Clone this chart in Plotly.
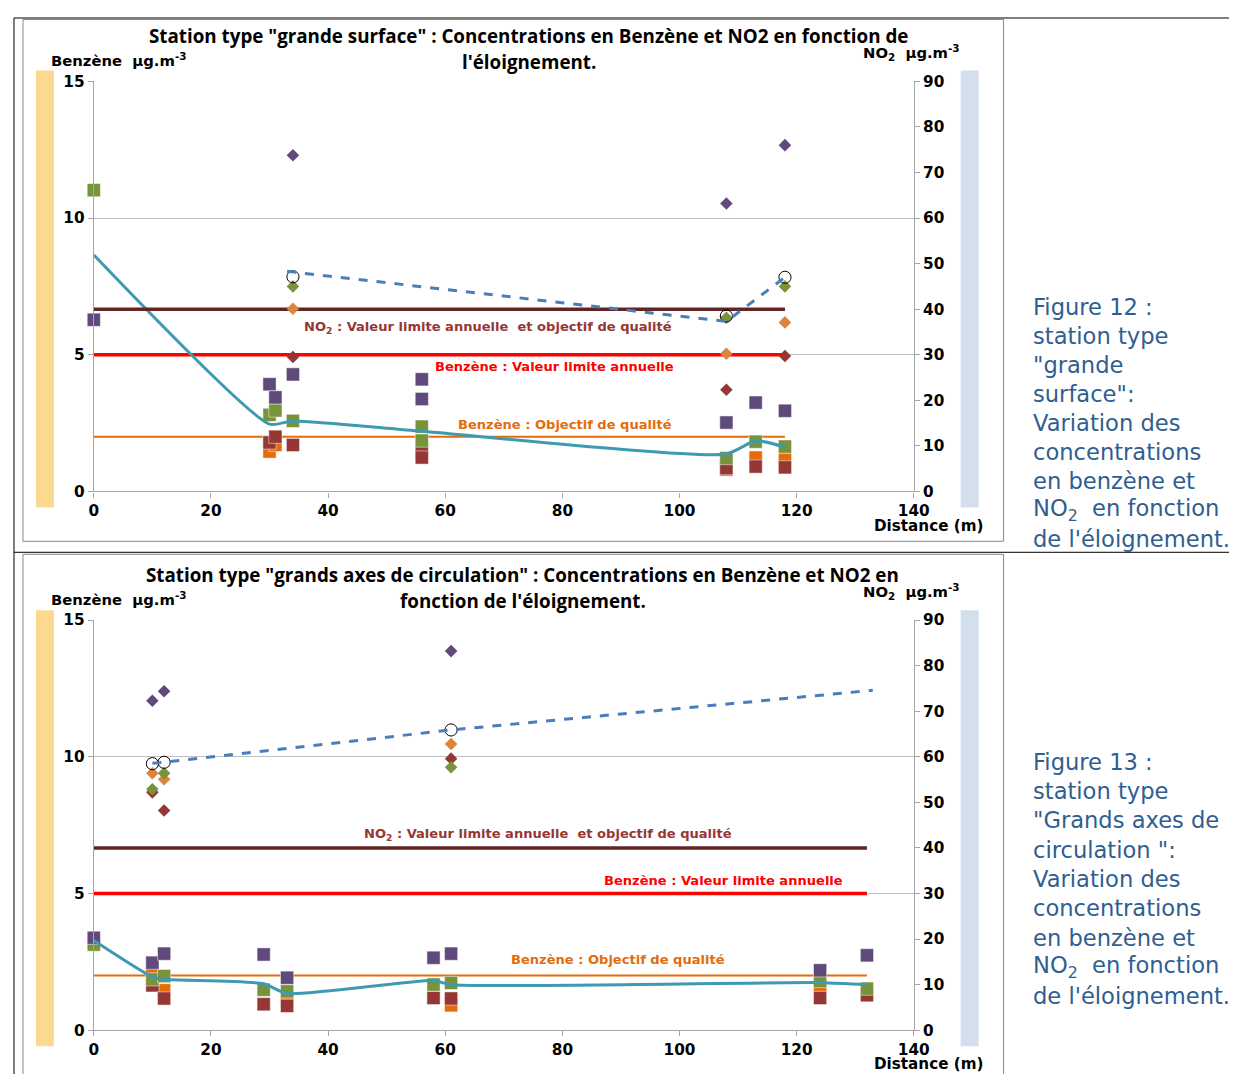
import plotly.graph_objects as go

# Screen placement observed for this renderer: screen = origin + K * figure_pixel.
OX, OY, K = 12.0, 14.5, 0.9855
W, H = 1243, 1076

# ---------------- DATA: Figure 12 (grande surface) ----------------
gs_sq_purple_x = [0, 30, 31, 34, 56, 56, 108, 113, 118]
gs_sq_purple_y = [6.28, 3.92, 3.44, 4.28, 4.10, 3.38, 2.52, 3.25, 2.95]
gs_sq_green_x = [0, 30, 31, 34, 56, 56, 108, 113, 118]
gs_sq_green_y = [11.02, 2.80, 2.96, 2.58, 2.37, 1.86, 1.22, 1.82, 1.64]
gs_sq_orange_x = [30, 31, 108, 113, 118]
gs_sq_orange_y = [1.46, 1.70, 0.80, 1.24, 1.16]
gs_sq_red_x = [30, 31, 34, 56, 56, 108, 113, 118]
gs_sq_red_y = [1.79, 2.00, 1.70, 1.46, 1.24, 0.85, 0.91, 0.88]

gs_di_purple_x = [34, 108, 118]
gs_di_purple_y = [73.8, 63.2, 76.0]
gs_di_green_x = [34, 108, 118]
gs_di_green_y = [45.0, 38.1, 45.0]
gs_di_orange_x = [34, 108, 118]
gs_di_orange_y = [40.1, 30.2, 37.1]
gs_di_red_x = [34, 108, 118]
gs_di_red_y = [29.5, 22.3, 29.7]
gs_ring_x = [34, 108, 118]
gs_ring_y = [47.1, 38.5, 47.0]

gs_benz_mean_x = [0, 30, 34, 56, 108, 113, 118]
gs_benz_mean_y = [8.65, 2.46, 2.58, 2.20, 1.37, 1.85, 1.62]
gs_no2_mean_x = [33, 108, 118]
gs_no2_mean_y = [48.3, 37.3, 47.0]
gs_limit_x = [0, 118]

# ---------------- DATA: Figure 13 (grands axes de circulation) ----------------
ga_sq_purple_x = [0, 10, 12, 29, 33, 58, 61, 124, 132]
ga_sq_purple_y = [3.38, 2.47, 2.80, 2.77, 1.92, 2.65, 2.80, 2.19, 2.74]
ga_sq_green_x = [0, 10, 12, 29, 33, 58, 61, 124, 132]
ga_sq_green_y = [3.13, 1.86, 1.98, 1.48, 1.42, 1.67, 1.73, 1.80, 1.52]
ga_sq_orange_x = [10, 12, 33, 61, 124]
ga_sq_orange_y = [2.13, 1.46, 1.22, 0.91, 1.64]
ga_sq_red_x = [10, 12, 29, 33, 58, 61, 124, 132]
ga_sq_red_y = [1.64, 1.16, 0.95, 0.89, 1.18, 1.16, 1.18, 1.28]

ga_di_purple_x = [10, 12, 61]
ga_di_purple_y = [72.3, 74.4, 83.2]
ga_di_orange_x = [10, 12, 61]
ga_di_orange_y = [56.4, 55.1, 62.8]
ga_di_red_x = [10, 12, 61]
ga_di_red_y = [52.2, 48.2, 59.6]
ga_di_green_x = [10, 12, 61]
ga_di_green_y = [52.9, 56.4, 57.7]
ga_ring_x = [10, 12, 61]
ga_ring_y = [58.5, 58.8, 65.9]

ga_benz_mean_x = [0, 10, 12, 29, 33, 58, 61, 124, 132]
ga_benz_mean_y = [3.28, 1.95, 1.86, 1.70, 1.34, 1.82, 1.66, 1.74, 1.67]
ga_no2_mean_x = [10, 12, 61, 133]
ga_no2_mean_y = [58.6, 58.8, 65.9, 74.6]
ga_limit_x = [0, 132]

no2_limit = 40
benz_limit = 5
benz_objective = 2

x_ticks = [0, 20, 40, 60, 80, 100, 120, 140]

# ---------------- STYLE ----------------
C_PURPLE = "#604A7B"
C_GREEN = "#77933C"
C_ORANGE = "#E46C0A"
C_ORANGE_DI = "#DB843D"
C_RED = "#953735"
C_TEAL = "#3E9AB0"
C_BLUE = "#4A7EBB"
C_NO2LIM = "#632523"
C_CAPTION = "#2F5E91"
AXC = "#A6A6A6"
GRID = "#C0C0C0"


def px(x):
    return ((x - OX) / K) / W


def py(y):
    return 1 - ((y - OY) / K) / H


def sz(s):
    return s / K


fig = go.Figure()


def add_chart(xa, ya, ya2, d):
    def sq(x, y, c):
        fig.add_trace(go.Scatter(x=x, y=y, mode="markers", xaxis=xa, yaxis=ya,
                                 marker=dict(symbol="square", size=sz(13), color=c,
                                             line=dict(width=0.7, color="rgba(255,255,255,0.7)")),
                                 cliponaxis=False, showlegend=False, hoverinfo="x+y"))

    def di(x, y, c):
        fig.add_trace(go.Scatter(x=x, y=y, mode="markers", xaxis=xa, yaxis=ya2,
                                 marker=dict(symbol="diamond", size=sz(9.5), color=c),
                                 cliponaxis=False, showlegend=False, hoverinfo="x+y"))

    # limit lines
    fig.add_trace(go.Scatter(x=d["lim_x"], y=[no2_limit] * 2, mode="lines", xaxis=xa, yaxis=ya2,
                             line=dict(color=C_NO2LIM, width=3.5), showlegend=False))
    fig.add_trace(go.Scatter(x=d["lim_x"], y=[benz_limit] * 2, mode="lines", xaxis=xa, yaxis=ya,
                             line=dict(color="#FF0000", width=3.5), showlegend=False))
    fig.add_trace(go.Scatter(x=d["lim_x"], y=[benz_objective] * 2, mode="lines", xaxis=xa, yaxis=ya,
                             line=dict(color=C_ORANGE, width=2.2), showlegend=False))
    # squares (benzene)
    sq(d["sqo"][0], d["sqo"][1], C_ORANGE)
    sq(d["sqr"][0], d["sqr"][1], C_RED)
    sq(d["sqg"][0], d["sqg"][1], C_GREEN)
    sq(d["sqp"][0], d["sqp"][1], C_PURPLE)
    # diamonds (NO2)
    di(d["dip"][0], d["dip"][1], C_PURPLE)
    di(d["dio"][0], d["dio"][1], C_ORANGE_DI)
    di(d["dir"][0], d["dir"][1], C_RED)
    di(d["dig"][0], d["dig"][1], C_GREEN)
    # mean lines
    fig.add_trace(go.Scatter(x=d["bm"][0], y=d["bm"][1], mode="lines", xaxis=xa, yaxis=ya,
                             line=dict(color=C_TEAL, width=3, shape="spline", smoothing=0.6),
                             showlegend=False))
    fig.add_trace(go.Scatter(x=d["ring"][0], y=d["ring"][1], mode="markers", xaxis=xa, yaxis=ya2,
                             marker=dict(symbol="circle-open", size=sz(12), color="black", line=dict(width=1)),
                             showlegend=False))
    fig.add_trace(go.Scatter(x=d["nm"][0], y=d["nm"][1], mode="lines", xaxis=xa, yaxis=ya2,
                             line=dict(color=C_BLUE, width=3, dash="dash"), showlegend=False))


add_chart("x", "y", "y2", dict(
    lim_x=gs_limit_x,
    sqp=(gs_sq_purple_x, gs_sq_purple_y), sqg=(gs_sq_green_x, gs_sq_green_y),
    sqo=(gs_sq_orange_x, gs_sq_orange_y), sqr=(gs_sq_red_x, gs_sq_red_y),
    dip=(gs_di_purple_x, gs_di_purple_y), dig=(gs_di_green_x, gs_di_green_y),
    dio=(gs_di_orange_x, gs_di_orange_y), dir=(gs_di_red_x, gs_di_red_y),
    ring=(gs_ring_x, gs_ring_y), bm=(gs_benz_mean_x, gs_benz_mean_y),
    nm=(gs_no2_mean_x, gs_no2_mean_y)))

add_chart("x2", "y3", "y4", dict(
    lim_x=ga_limit_x,
    sqp=(ga_sq_purple_x, ga_sq_purple_y), sqg=(ga_sq_green_x, ga_sq_green_y),
    sqo=(ga_sq_orange_x, ga_sq_orange_y), sqr=(ga_sq_red_x, ga_sq_red_y),
    dip=(ga_di_purple_x, ga_di_purple_y), dig=(ga_di_green_x, ga_di_green_y),
    dio=(ga_di_orange_x, ga_di_orange_y), dir=(ga_di_red_x, ga_di_red_y),
    ring=(ga_ring_x, ga_ring_y), bm=(ga_benz_mean_x, ga_benz_mean_y),
    nm=(ga_no2_mean_x, ga_no2_mean_y)))

TF = dict(family="DejaVu Sans", size=15.3, color="black", weight="bold")
xdom = [px(93), px(915)]
top_dom = [py(490), py(79)]
bot_dom = [py(1030), py(619)]


def xax(anchor):
    return dict(domain=xdom, anchor=anchor, range=[0, 140], tickvals=x_ticks, ticks="outside",
                ticklen=5, tickcolor=AXC, showline=True, linecolor=AXC, linewidth=1.3,
                showgrid=False, zeroline=False, tickfont=TF, fixedrange=True)


def yleft(anchor, dom):
    return dict(domain=dom, anchor=anchor, range=[0, 15], tickvals=[0, 5, 10, 15], ticks="outside",
                ticklen=5, tickcolor=AXC, showline=True, linecolor=AXC, linewidth=1.3,
                showgrid=True, gridcolor=GRID, gridwidth=1.3, zeroline=False, tickfont=TF)


def yright(anchor, over):
    return dict(anchor=anchor, overlaying=over, side="right", range=[0, 90],
                tickvals=list(range(0, 91, 10)), ticks="outside", ticklen=5, tickcolor=AXC,
                showline=True, linecolor=AXC, linewidth=1.3, showgrid=False, zeroline=False,
                tickfont=TF)


fig.update_layout(
    width=W, height=H, margin=dict(l=0, r=0, t=0, b=0),
    paper_bgcolor="white", plot_bgcolor="white", showlegend=False,
    xaxis=xax("y"), yaxis=yleft("x", top_dom), yaxis2=yright("x", "y"),
    xaxis2=xax("y3"), yaxis3=yleft("x2", bot_dom), yaxis4=yright("x2", "y3"),
)

shapes = []
# table lines
shapes.append(dict(type="line", xref="paper", yref="paper", x0=px(13), x1=1, y0=py(15.5), y1=py(15.5),
                   line=dict(color="black", width=1)))
shapes.append(dict(type="line", xref="paper", yref="paper", x0=px(13), x1=1, y0=py(551), y1=py(551),
                   line=dict(color="black", width=1)))
shapes.append(dict(type="line", xref="paper", yref="paper", x0=px(13), x1=px(13), y0=0, y1=py(15.5),
                   line=dict(color="black", width=1)))
# chart frames
for (t, b) in [(17, 540), (553, 1080)]:
    shapes.append(dict(type="rect", xref="paper", yref="paper", x0=px(22), x1=px(1005), y0=py(b), y1=py(t),
                       line=dict(color="#878787", width=1), layer="below"))
# colored bands
for (t, b) in [(68, 506), (609, 1046)]:
    shapes.append(dict(type="rect", xref="paper", yref="paper", x0=px(35), x1=px(53), y0=py(b), y1=py(t),
                       fillcolor="#FDD990", line=dict(width=0), layer="below"))
    shapes.append(dict(type="rect", xref="paper", yref="paper", x0=px(962), x1=px(980), y0=py(b), y1=py(t),
                       fillcolor="#D4DFEE", line=dict(width=0), layer="below"))
fig.update_layout(shapes=shapes)

ann = []


def text(x, y, s, size=12, color="black", family="DejaVu Sans", weight="bold", xanchor="center"):
    ann.append(dict(x=px(x), y=py(y), xref="paper", yref="paper", text=s, showarrow=False,
                    xanchor=xanchor, yanchor="middle",
                    font=dict(family=family, size=size, color=color, weight=weight)))


TITLE_F = "Open Sans"
TS = 18.8
AX_T = 14.8
LAB = 13.05
DS = 15.2
# chart 1 texts
text(529, 34, 'Station type "grande surface" : Concentrations en Benzène et NO2 en fonction de', TS, family=TITLE_F)
text(529, 60, "l'éloignement.", TS, family=TITLE_F)
text(48, 57, "Benzène  µg.m<sup>-3</sup>", AX_T, xanchor="left")
text(862, 50, "NO<sub>2</sub>  µg.m<sup>-3</sup>", AX_T, xanchor="left")
text(986, 525, "Distance (m)", DS, xanchor="right")
text(488, 326, "NO<sub>2</sub> : Valeur limite annuelle  et objectif de qualité", LAB, color=C_RED)
text(555, 365, "Benzène : Valeur limite annuelle", LAB, color="#FF0000")
text(565, 423, "Benzène : Objectif de qualité", LAB, color=C_ORANGE)
# chart 2 texts
text(523, 574, 'Station type "grands axes de circulation" : Concentrations en Benzène et NO2 en', TS, family=TITLE_F)
text(523, 600, "fonction de l'éloignement.", TS, family=TITLE_F)
text(48, 597, "Benzène  µg.m<sup>-3</sup>", AX_T, xanchor="left")
text(862, 590, "NO<sub>2</sub>  µg.m<sup>-3</sup>", AX_T, xanchor="left")
text(986, 1064, "Distance (m)", DS, xanchor="right")
text(548, 834, "NO<sub>2</sub> : Valeur limite annuelle  et objectif de qualité", LAB, color=C_RED)
text(724, 880, "Benzène : Valeur limite annuelle", LAB, color="#FF0000")
text(618, 959, "Benzène : Objectif de qualité", LAB, color=C_ORANGE)

cap12 = ["Figure 12 :", "station type", '"grande', 'surface":', "Variation des", "concentrations",
         "en benzène et", "NO<sub>2</sub>  en fonction", "de l'éloignement."]
cap13 = ["Figure 13 :", "station type", '"Grands axes de', 'circulation ":', "Variation des",
         "concentrations", "en benzène et", "NO<sub>2</sub>  en fonction", "de l'éloignement."]
CAP = 22.6
for i, s in enumerate(cap12):
    text(1032, 305 + i * 29.1, s, CAP, color=C_CAPTION, weight="normal", xanchor="left")
for i, s in enumerate(cap13):
    text(1032, 761 + i * 29.35, s, CAP, color=C_CAPTION, weight="normal", xanchor="left")

fig.update_layout(annotations=ann)
fig.write_html("out.html")
